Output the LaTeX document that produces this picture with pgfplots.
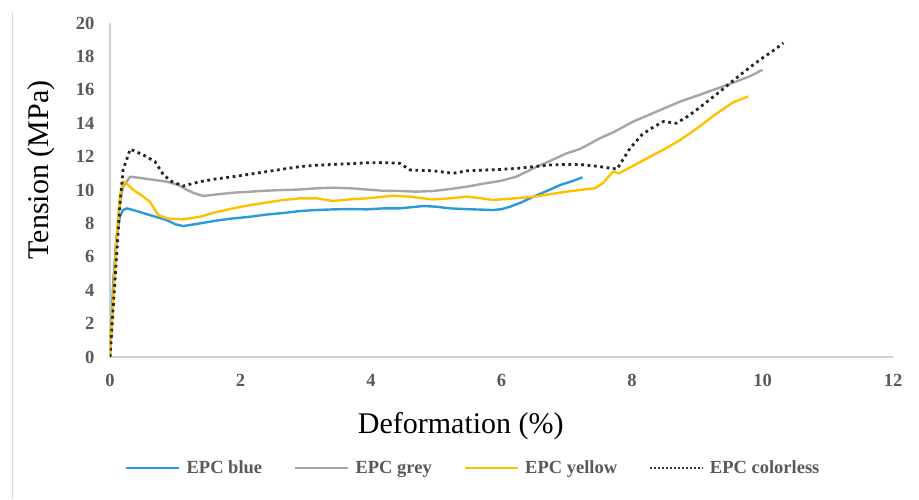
\documentclass[border=0pt]{standalone}
\usepackage{fontspec}
\setmainfont{Liberation Serif}
\usepackage{pgfplots}
\pgfplotsset{compat=1.18}

\definecolor{epcblue}{RGB}{41,155,219}
\definecolor{epcgrey}{RGB}{165,165,165}
\definecolor{epcyellow}{RGB}{255,192,0}
\definecolor{tickgray}{RGB}{89,89,89}
\definecolor{axisgray}{RGB}{208,208,208}
\definecolor{framegray}{RGB}{217,217,217}

% stress-strain curves, deformation (%) vs tension (MPa)
\pgfplotstableread{
x y
0 0
0.05 4.5
0.1 7.2
0.15 8.4
0.2 8.8
0.26 8.9
0.4 8.75
0.61 8.5
0.87 8.2
1.0 7.95
1.12 7.84
1.38 8.0
1.6 8.15
1.89 8.3
2.15 8.4
2.4 8.53
2.65 8.62
2.91 8.74
3.15 8.8
3.42 8.84
3.7 8.86
3.93 8.84
4.2 8.9
4.44 8.9
4.8 9.04
5.0 9.0
5.21 8.9
5.5 8.85
5.87 8.8
6.0 8.85
6.13 9.0
6.3 9.25
6.49 9.6
6.7 9.95
6.9 10.3
7.1 10.55
7.24 10.76
}\blue

\pgfplotstableread{
x y
0 0
0.05 4
0.1 7
0.15 9.2
0.2 10.2
0.31 10.8
0.5 10.7
0.87 10.5
1.05 10.3
1.18 10.0
1.3 9.8
1.43 9.64
1.6 9.72
1.89 9.84
2.15 9.9
2.4 9.96
2.65 10.0
2.91 10.03
3.15 10.1
3.42 10.14
3.7 10.1
3.93 10.03
4.2 9.95
4.44 9.94
4.7 9.9
4.95 9.94
5.2 10.05
5.47 10.2
5.75 10.4
5.98 10.54
6.23 10.8
6.49 11.3
6.75 11.75
7.0 12.2
7.2 12.45
7.51 13.1
7.71 13.45
8.02 14.1
8.23 14.45
8.5 14.9
8.74 15.3
9.0 15.65
9.25 16.0
9.6 16.5
9.8 16.8
10.0 17.2
}\grey

\pgfplotstableread{
x y
0 0
0.05 3.5
0.1 7.0
0.15 9.6
0.2 10.5
0.25 10.4
0.36 10.0
0.51 9.6
0.61 9.3
0.74 8.5
0.87 8.3
1.12 8.24
1.38 8.4
1.6 8.65
1.89 8.9
2.15 9.1
2.4 9.25
2.65 9.4
2.91 9.5
3.17 9.5
3.42 9.34
3.7 9.45
3.93 9.5
4.15 9.58
4.34 9.66
4.6 9.6
4.95 9.43
5.2 9.5
5.47 9.6
5.7 9.5
5.87 9.4
6.2 9.5
6.49 9.6
6.75 9.75
7.0 9.9
7.2 10.0
7.43 10.1
7.55 10.4
7.71 11.1
7.8 11.0
8.02 11.45
8.23 11.9
8.5 12.45
8.74 13.0
9.0 13.7
9.25 14.45
9.55 15.25
9.78 15.6
}\yellow

\pgfplotstableread{
x y
0 0
0.05 3
0.1 6
0.15 9
0.2 11.2
0.31 12.45
0.51 12.1
0.69 11.7
0.82 10.9
0.95 10.5
1.12 10.24
1.38 10.5
1.6 10.65
1.89 10.8
2.15 10.95
2.4 11.1
2.65 11.25
2.91 11.4
3.15 11.48
3.42 11.53
3.7 11.58
3.93 11.63
4.2 11.64
4.44 11.6
4.6 11.2
4.95 11.15
5.26 11.0
5.47 11.15
5.75 11.2
5.98 11.23
6.25 11.3
6.49 11.4
6.75 11.5
7.0 11.53
7.2 11.53
7.51 11.4
7.77 11.25
7.97 12.5
8.15 13.3
8.3 13.7
8.48 14.1
8.68 14.0
8.85 14.4
8.99 14.8
9.35 15.9
9.66 16.9
9.96 17.8
10.15 18.3
10.32 18.8
}\colorless

\begin{document}
\begin{tikzpicture}
\useasboundingbox (-110pt,-142pt) rectangle (809pt,357pt);
% thin frame edge on the left
\draw[framegray, line width=1pt] (-97pt,-142pt) -- (-97pt,345pt);
\begin{axis}[
  at={(0,0)}, anchor=south west,
  scale only axis, width=783pt, height=334pt,
  xmin=0, xmax=12, ymin=0, ymax=20,
  xtick={0,2,...,12}, ytick={0,2,...,20},
  axis lines*=left,
  axis line style={draw=axisgray, line width=1.2pt, -},
  major tick length=0pt,
  /pgf/number format/assume math mode=true,
  ticklabel style={font=\fontsize{18.5}{18.5}\selectfont\bfseries, text=tickgray},
  yticklabel style={xshift=-12pt},
  xticklabel style={yshift=-14pt},
  xlabel={Deformation (\%)},
  ylabel={Tension (MPa)},
  label style={font=\fontsize{30}{30}\selectfont},
  xlabel style={at={([yshift=-55pt]axis description cs:0.448,0)}, anchor=north, inner sep=0pt},
  ylabel style={at={([xshift=-69pt]axis description cs:0,0.56)}, anchor=center, inner sep=0pt},
  legend columns=4,
  legend style={draw=none, fill=none, at={(axis description cs:0.464,-0.332)}, anchor=center,
    font=\fontsize{18.5}{18.5}\selectfont\bfseries, text=tickgray,
    /tikz/every even column/.append style={column sep=30pt},
    /tikz/every odd column/.append style={column sep=4pt}},
  legend image code/.code={\draw[#1] (0pt,0pt) -- (53pt,0pt);},
  every axis plot/.append style={line join=round},
]
\addplot[epcblue, line width=2.4pt] table[x=x,y=y] {\blue};
\addlegendentry{EPC blue}
\addplot[epcgrey, line width=2.4pt] table[x=x,y=y] {\grey};
\addlegendentry{EPC grey}
\addplot[epcyellow, line width=2.4pt] table[x=x,y=y] {\yellow};
\addlegendentry{EPC yellow}
\addplot[black!85, line width=2.8pt, line cap=butt, dash pattern=on 2.8pt off 3.6pt,
  legend image code/.code={\draw[black!80, line width=1.8pt, dash pattern=on 1.8pt off 2.2pt] (0pt,0pt) -- (53pt,0pt);}]
  table[x=x,y=y] {\colorless};
\addlegendentry{EPC colorless}
\end{axis}
\end{tikzpicture}
\end{document}
